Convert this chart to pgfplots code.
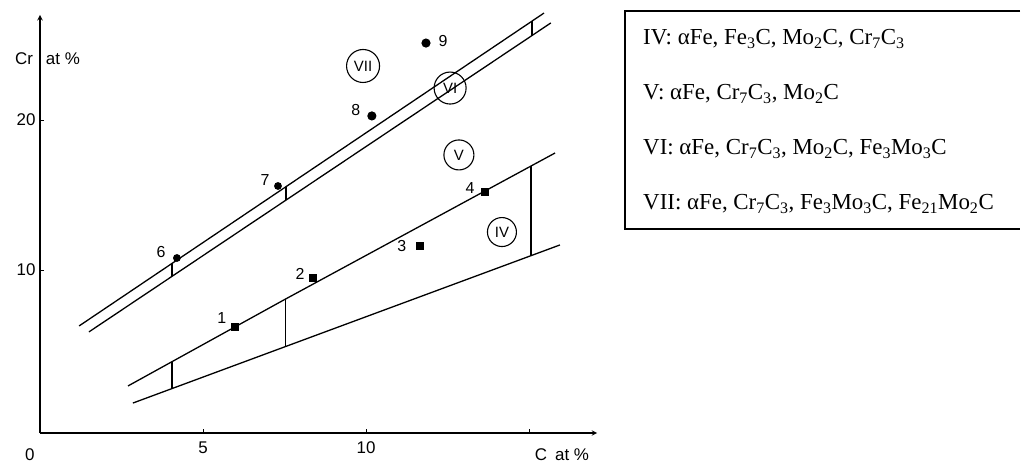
\documentclass[border=0pt]{standalone}
\usepackage{fontspec}
\setmainfont{Liberation Sans}
\newfontfamily\legendfont{Liberation Serif}
\usepackage{pgfplots}
\pgfplotsset{compat=1.18}
\begin{document}
\begin{tikzpicture}
\path[use as bounding box] (-40bp,-32bp) rectangle (983bp,433bp);
\begin{axis}[
  at={(0,0)}, anchor=south west,
  x=32.6bp, y=15bp,
  xmin=0, xmax=17.09, ymin=-0.867, ymax=27,
  axis lines=left,
  axis line style={line width=1.4bp, -stealth},
  clip=false,
  tick align=inside,
  major tick length=4bp,
  tick style={line width=0.9bp, black},
  xtick={5,10,15}, xticklabels={5,10,},
  ytick={10,20}, yticklabels={10,20},
  /pgf/number format/assume math mode=true,
  ticklabel style={font=\fontsize{17}{17}\selectfont},
  xticklabel style={yshift=-5bp},
  yticklabel style={xshift=-1bp},
  cycle list={{black,solid,no marks}},
  every axis plot/.append style={line width=1.3bp},
]
% upper double band
\addplot[black, sharp plot] coordinates {(1.20,6.27) (15.46,27.13)};
\addplot[black, sharp plot] coordinates {(1.50,5.87) (15.67,26.47)};
\addplot[black] coordinates {(4.05,10.44) (4.05,9.58)};
\addplot[black] coordinates {(7.55,15.56) (7.55,14.66)};
\addplot[black] coordinates {(15.09,26.59) (15.09,25.63)};
% lower wedge
\addplot[black, sharp plot] coordinates {(2.70,2.27) (7.52,8.05) (15.80,17.80)};
\addplot[black, sharp plot] coordinates {(2.85,1.13) (15.95,11.67)};
\addplot[black] coordinates {(4.05,3.89) (4.05,2.10)};
\addplot[black] coordinates {(7.52,8.05) (7.52,4.89)};
\addplot[black] coordinates {(15.06,16.93) (15.06,10.95)};
% points
\addplot[black, only marks, mark=square*, mark size=3.2bp] coordinates {(5.98,6.2) (8.37,9.47) (11.66,11.6) (13.65,15.2)};
\addplot[black, only marks, mark=*, mark size=3.2bp] coordinates {(4.2,10.8) (7.3,15.6)};
\addplot[black, only marks, mark=*, mark size=3.9bp] coordinates {(10.18,20.27) (11.84,25.13)};
% point labels
\begin{scope}[every node/.style={font=\fontsize{16}{16}\selectfont}]
\node at (axis cs:5.58,6.8) {1};
\node at (axis cs:7.98,9.73) {2};
\node at (axis cs:11.1,11.6) {3};
\node at (axis cs:13.19,15.47) {4};
\node at (axis cs:3.71,11.2) {6};
\node at (axis cs:6.9,16.0) {7};
\node at (axis cs:9.69,20.67) {8};
\node at (axis cs:12.36,25.27) {9};
\end{scope}
% region labels
\begin{scope}[every node/.style={circle, draw, line width=1.1bp, inner sep=0pt, font=\fontsize{15}{15}\selectfont}]
\node[minimum size=33bp] at (axis cs:9.91,23.6) {VII};
\node[minimum size=32bp] at (axis cs:12.58,22.13) {VI};
\node[minimum size=30bp] at (axis cs:12.85,17.67) {V};
\node[minimum size=29bp] at (axis cs:14.17,12.53) {IV};
\end{scope}
% axis annotations
\node[font=\fontsize{17}{17}\selectfont] at (axis cs:-0.31,-2.33) {0};
\node[font=\fontsize{17}{17}\selectfont] at (axis cs:0.23,24.07) {Cr\hspace{13bp}at \%};
\node[font=\fontsize{17}{17}\selectfont] at (axis cs:16.01,-2.33) {C\hspace{8bp}at \%};
\end{axis}
% legend box (open on the right, as in the reference)
\draw[line width=1.2bp] (980bp,422bp) -- (585bp,422bp) -- (585bp,204bp) -- (980bp,204bp);
\begin{scope}[every node/.style={anchor=base west, inner sep=0pt, font=\legendfont\fontsize{23}{26}\selectfont}]
\node at (603bp,388bp) {IV: αFe, Fe\textsubscript{3}C, Mo\textsubscript{2}C, Cr\textsubscript{7}C\textsubscript{3}};
\node at (603bp,333bp) {V: αFe, Cr\textsubscript{7}C\textsubscript{3}, Mo\textsubscript{2}C};
\node at (603bp,278bp) {VI: αFe, Cr\textsubscript{7}C\textsubscript{3}, Mo\textsubscript{2}C, Fe\textsubscript{3}Mo\textsubscript{3}C};
\node at (603bp,223bp) {VII: αFe, Cr\textsubscript{7}C\textsubscript{3}, Fe\textsubscript{3}Mo\textsubscript{3}C, Fe\textsubscript{21}Mo\textsubscript{2}C};
\end{scope}
\end{tikzpicture}
\end{document}
